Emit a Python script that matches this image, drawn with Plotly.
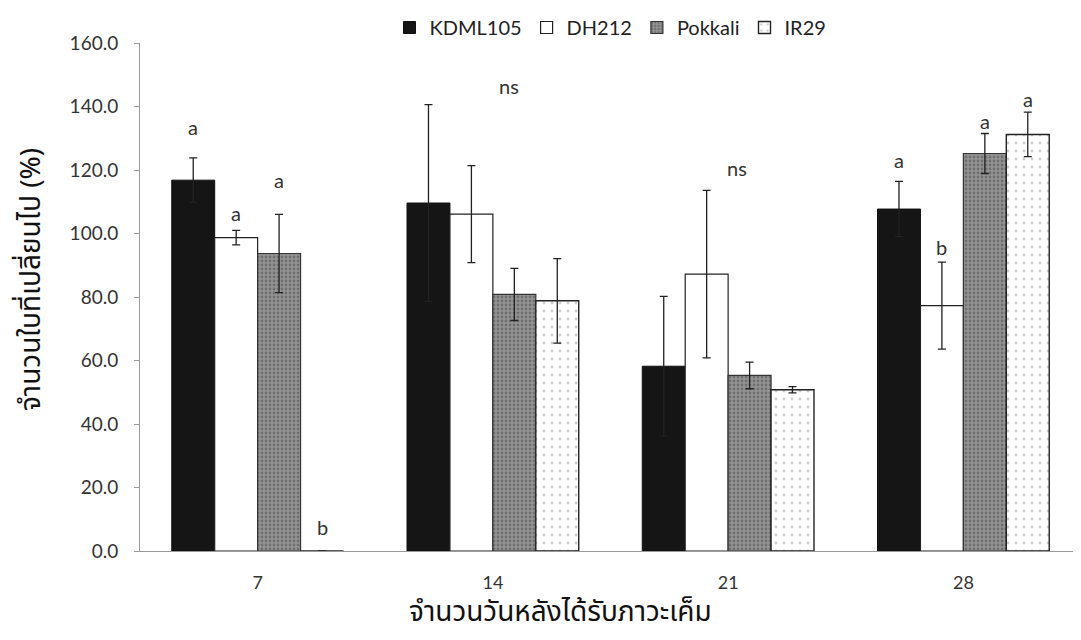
import plotly.graph_objects as go

days = ["7", "14", "21", "28"]
series_names = ["KDML105", "DH212", "Pokkali", "IR29"]
kdml105 = [116.8, 109.6, 58.2, 107.7]
kdml105_err = [7.0, 31.0, 22.0, 8.7]
dh212 = [98.7, 106.1, 87.2, 77.3]
dh212_err = [2.3, 15.3, 26.4, 13.7]
pokkali = [93.7, 80.8, 55.3, 125.2]
pokkali_err = [12.3, 8.2, 4.2, 6.3]
ir29 = [0.0, 78.8, 50.8, 131.2]
ir29_err = [0.0, 13.3, 1.0, 7.0]

# significance letters: (day index, bar slot, label, y value)
sig_labels = [
    (0, 0, "a", 133.5), (0, 1, "a", 106.5), (0, 2, "a", 117.0), (0, 3, "b", 7.5),
    (1, 1.87, "ns", 146.5),
    (2, 1.71, "ns", 120.5),
    (3, 0, "a", 123.0), (3, 1, "b", 95.8), (3, 2, "a", 135.3), (3, 3, "a", 142.5),
]

y_title = "จำนวนใบที่เปลี่ยนไป (%)"
x_title = "จำนวนวันหลังได้รับภาวะเค็ม"

values = [kdml105, dh212, pokkali, ir29]
errors = [kdml105_err, dh212_err, pokkali_err, ir29_err]

styles = [
    dict(color="#151515", line=dict(color="#111111", width=1)),
    dict(color="#ffffff", line=dict(color="#222222", width=1.2)),
    dict(color="#8c8c8c", line=dict(color="#333333", width=1.2),
         pattern=dict(shape=".", fgcolor="#4a4a4a", bgcolor="#949494", size=4, solidity=0.4)),
    dict(color="#ffffff", line=dict(color="#222222", width=1.4),
         pattern=dict(shape=".", fgcolor="#9a9a9a", bgcolor="#ffffff", size=8, solidity=0.1)),
]

fig = go.Figure()
for name, vals, errs, st in zip(series_names, values, errors, styles):
    fig.add_trace(go.Bar(
        x=days, y=vals, name=name,
        marker=st,
        error_y=dict(type="data", array=errs, visible=True, color="#222222",
                     thickness=1.3, width=4),
    ))

bar_w = 0.73 / 4
for di, si, txt, yv in sig_labels:
    xpos = di + (si - 1.5) * bar_w
    fig.add_annotation(x=xpos, y=yv, text=txt, showarrow=False, xref="x", yref="y",
                       font=dict(family="Lato, Open Sans, sans-serif", size=20, color="#333333"),
                       xanchor="center", yanchor="middle")

thai_font = "Noto Sans Thai, Noto Sans Thai Looped, Loma, Garuda, Tahoma, sans-serif"

# axis titles as annotations (positioned like the reference)
fig.add_annotation(x=0.447, y=-0.122, xref="paper", yref="paper", text=x_title,
                   showarrow=False, xanchor="center", yanchor="middle",
                   font=dict(family=thai_font, size=28, color="#111111"))
fig.add_annotation(x=-0.116, y=0.535, xref="paper", yref="paper", text=y_title,
                   showarrow=False, xanchor="center", yanchor="middle", textangle=-90,
                   font=dict(family=thai_font, size=28, color="#111111"))

fig.update_layout(
    width=1073, height=632,
    margin=dict(l=132, r=0, t=35, b=89, autoexpand=False),
    plot_bgcolor="white", paper_bgcolor="white",
    barmode="group", bargap=0.27, bargroupgap=0,
    font=dict(family="Lato, Open Sans, sans-serif", color="#333333"),
    legend=dict(orientation="h", x=0.5, xanchor="center", xref="paper",
                y=1.0, yref="container", yanchor="top",
                font=dict(size=20, color="#222222"), itemwidth=30,
                bgcolor="rgba(0,0,0,0)"),
    showlegend=True,
)
fig.update_yaxes(
    range=[0, 160], dtick=20, tickformat=".1f",
    showgrid=False, zeroline=False,
    showline=True, linecolor="#9a9a9a", linewidth=1,
    ticks="outside", ticklen=5, tickcolor="#9a9a9a",
    ticklabelstandoff=12,
    tickfont=dict(size=19, color="#333333"),
)
fig.update_xaxes(
    showgrid=False, showline=True, linecolor="#9a9a9a", linewidth=1,
    ticks="", tickfont=dict(size=18, color="#333333"),
    ticklabelstandoff=15,
)

fig.write_html("out.html")
